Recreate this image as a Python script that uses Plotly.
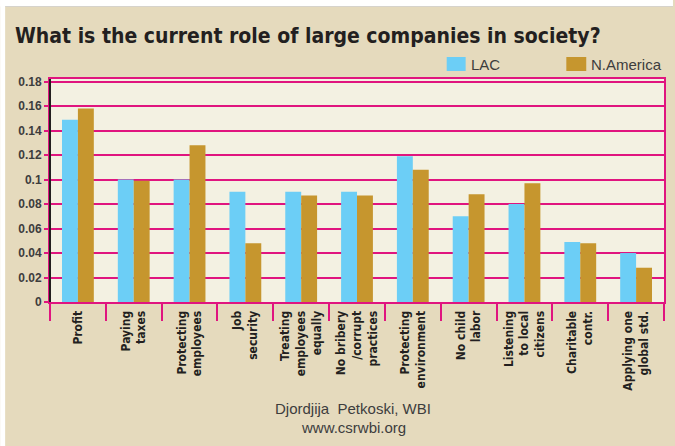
import plotly.graph_objects as go

# Survey responses: share of respondents naming each role
categories = [
    "Profit",
    "Paying<br>taxes",
    "Protecting<br>employees",
    "Job<br>security",
    "Treating<br>employees<br>equally",
    "No bribery<br>/corrupt<br>practices",
    "Protecting<br>environment",
    "No child<br>labor",
    "Listening<br>to local<br>citizens",
    "Charitable<br>contr.",
    "Applying one<br>global std.",
]
lac = [0.149, 0.100, 0.100, 0.090, 0.090, 0.090, 0.119, 0.070, 0.080, 0.049, 0.040]
n_america = [0.158, 0.099, 0.128, 0.048, 0.087, 0.087, 0.108, 0.088, 0.097, 0.048, 0.028]
y_ticks = [0, 0.02, 0.04, 0.06, 0.08, 0.1, 0.12, 0.14, 0.16, 0.18]
y_tick_text = ["0", "0.02", "0.04", "0.06", "0.08", "0.1", "0.12", "0.14", "0.16", "0.18"]

W, H = 675, 446
L, R, T, B = 50, 9, 79, 144
PW, PH = W - L - R, H - T - B
PB = H - B

BEIGE = "#e5dabd"
PLOT_BG = "#f3f1e2"
PINK = "#e0157f"
LAC_COLOR = "#6ccef6"
NA_COLOR = "#c6962e"
DARK = "#231f20"
GREY_TEXT = "#3d3d3d"
CONDENSED = "DejaVu Sans Condensed"


def px(x):
    return (x - L) / PW


def py(y):
    return (PB - y) / PH


fig = go.Figure()
fig.add_trace(go.Bar(x=categories, y=lac, name="LAC", marker_color=LAC_COLOR,
                     marker_line_width=0))
fig.add_trace(go.Bar(x=categories, y=n_america, name="N.America", marker_color=NA_COLOR,
                     marker_line_width=0))

shapes = [
    # white margins at the left and top edge of the page
    dict(type="rect", xref="paper", yref="paper", x0=px(0), x1=px(5), y0=py(0), y1=py(H),
         fillcolor="white", line_width=0, layer="below"),
    dict(type="rect", xref="paper", yref="paper", x0=px(0), x1=px(W), y0=py(0), y1=py(6.5),
         fillcolor="white", line_width=0, layer="below"),
    dict(type="line", xref="paper", yref="paper", x0=px(5), x1=px(W), y0=py(6.5), y1=py(6.5),
         line=dict(color="#d6d3cc", width=1), layer="below"),
    # dark value axis on the left
    dict(type="line", xref="paper", yref="paper", x0=0, x1=0, y0=0, y1=1,
         line=dict(color=DARK, width=2)),
    # legend swatches
    dict(type="rect", xref="paper", yref="paper", x0=px(448), x1=px(467), y0=py(71), y1=py(57),
         fillcolor=LAC_COLOR, line_width=0),
    dict(type="rect", xref="paper", yref="paper", x0=px(568), x1=px(588), y0=py(71), y1=py(57),
         fillcolor=NA_COLOR, line_width=0),
]

annotations = [
    dict(text="LAC", xref="paper", yref="paper", x=px(470), y=py(64), xanchor="left",
         yanchor="middle", showarrow=False,
         font=dict(family="Liberation Sans", size=15, color=GREY_TEXT)),
    dict(text="N.America", xref="paper", yref="paper", x=px(591), y=py(64), xanchor="left",
         yanchor="middle", showarrow=False,
         font=dict(family="Liberation Sans", size=15, color=GREY_TEXT)),
    dict(text="Djordjija&nbsp;&nbsp;Petkoski, WBI", xref="paper", yref="paper", x=px(354),
         y=py(408), xanchor="center", yanchor="middle", showarrow=False,
         font=dict(family="Liberation Sans", size=15, color=GREY_TEXT)),
    dict(text="www.csrwbi.org", xref="paper", yref="paper", x=px(354), y=py(428),
         xanchor="center", yanchor="middle", showarrow=False,
         font=dict(family="Liberation Sans", size=15, color=GREY_TEXT)),
]

fig.update_layout(
    width=W, height=H,
    margin=dict(l=L, r=R, t=T, b=B, pad=0),
    paper_bgcolor=BEIGE,
    plot_bgcolor=PLOT_BG,
    barmode="group",
    bargap=0.43,
    bargroupgap=0,
    showlegend=False,
    title=dict(text="What is the current role of large companies in society?",
               x=15 / W, xanchor="left", xref="container",
               y=1 - 28 / H, yanchor="top", yref="container",
               font=dict(family=CONDENSED, size=21, color=DARK, weight="bold")),
    shapes=shapes,
    annotations=annotations,
)

fig.update_xaxes(
    showgrid=False,
    showline=True, linecolor=PINK, linewidth=2, mirror=True,
    ticks="outside", tickson="boundaries", ticklen=17, tickwidth=2, tickcolor=PINK,
    tickangle=-90, ticklabelstandoff=2,
    tickfont=dict(family=CONDENSED, size=12, color=DARK, weight="bold"),
)

fig.update_yaxes(
    range=[0, 0.1822],
    tickvals=y_ticks, ticktext=y_tick_text,
    showgrid=True, gridcolor=PINK, gridwidth=2,
    zeroline=False,
    showline=True, linecolor=PINK, linewidth=2, mirror=True,
    ticks="outside", ticklen=4, tickwidth=2, tickcolor=PINK,
    tickfont=dict(family="Liberation Sans", size=12, color=GREY_TEXT, weight="bold"),
)

fig.write_html("out.html")
